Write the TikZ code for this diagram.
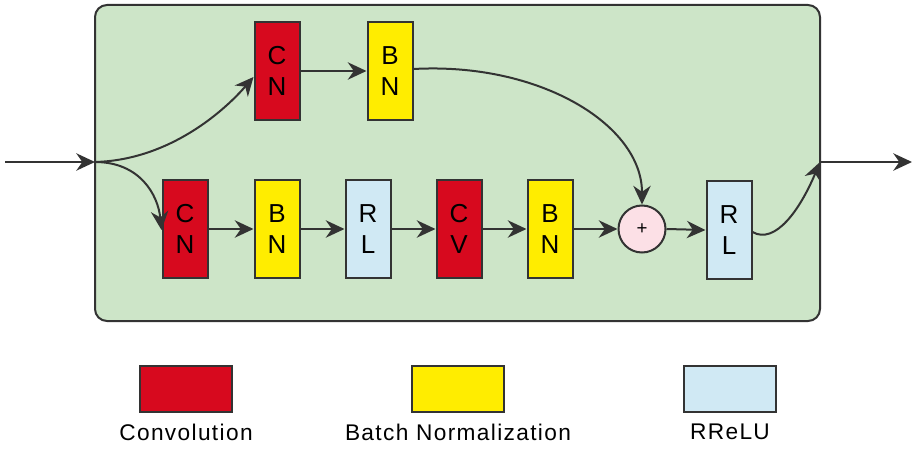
\documentclass[tikz,border=0pt]{standalone}
\usepackage{fontspec}
\setmainfont{Liberation Sans}
\usetikzlibrary{arrows.meta}
\definecolor{bggreen}{HTML}{CDE5C8}
\definecolor{convred}{HTML}{D7091E}
\definecolor{bnyellow}{HTML}{FFED00}
\definecolor{rlblue}{HTML}{D0E9F4}
\definecolor{addpink}{HTML}{FCE0E6}
\definecolor{edge}{HTML}{333333}
\begin{document}
\begin{tikzpicture}[x=0.75pt,y=-0.75pt,
  line width=1.5pt,
  >={Stealth[length=14pt,width=13pt,inset=4.5pt]},
  blk/.style={draw=edge,minimum width=45*0.75pt,minimum height=98*0.75pt,inner sep=0pt,
    align=center,font=\fontsize{19.5}{23}\selectfont},
  conv/.style={blk,fill=convred},
  bn/.style={blk,fill=bnyellow},
  rl/.style={blk,fill=rlblue},
  leg/.style={draw=edge,minimum width=92*0.75pt,minimum height=46*0.75pt,inner sep=0pt},
  legtxt/.style={font=\fontsize{17}{19}\selectfont\addfontfeature{LetterSpace=6}},
  conn/.style={draw=edge,->}]
\useasboundingbox (0,0) rectangle (918,449);
\draw[draw=edge,fill=bggreen,rounded corners=9pt] (95,5) rectangle (820,321);
\coordinate (in) at (95,162);
\coordinate (out) at (820,162);
\coordinate (start) at (5,162);
\coordinate (end) at (912,162);
% top row
\node[conv] (c1) at (277,71) {C\\N};
\node[bn] (b1) at (390,71) {B\\N};
% bottom row
\node[conv] (c2) at (185,229) {C\\N};
\node[bn] (b2) at (277,229) {B\\N};
\node[rl] (r1) at (368,229) {R\\L};
\node[conv] (c3) at (459,229) {C\\V};
\node[bn] (b3) at (550,229) {B\\N};
\node[circle,draw=edge,fill=addpink,minimum size=47*0.75pt,inner sep=0pt,font=\fontsize{14}{14}\selectfont] (add) at (642,229) {+};
\node[rl] (r2) at (729,230) {R\\L};
% connectors
\draw[conn] (start) -- (in);
\draw[conn] (out) -- (end);
\draw[conn] (in) .. controls (170,160) and (225,110) .. ([yshift=-6*0.75pt]c1.west);
\draw[conn] (in) .. controls (140,162) and (158,195) .. ([yshift=-1*0.75pt]c2.west);
\draw[conn] (c1.east) -- (b1.west);
\draw[conn] ([yshift=1.5]b1.east) .. controls (540,62) and (642,125) .. (add.north);
\draw[conn] (c2.east) -- (b2.west);
\draw[conn] (b2.east) -- (r1.west);
\draw[conn] (r1.east) -- (c3.west);
\draw[conn] (c3.east) -- (b3.west);
\draw[conn] (b3.east) -- (add.west);
\draw[conn] (add.east) -- (r2.west);
\draw[conn] ([yshift=-2*0.75pt]r2.east) .. controls (775,245) and (800,210) .. (out);
% legend
\node[leg,fill=convred] (lc) at (186,389) {};
\node[leg,fill=bnyellow] (lb) at (458,389) {};
\node[leg,fill=rlblue] (lr) at (730,389) {};
\node[legtxt] (tc) at (186,432) {Convolution};
\node[legtxt] (tb) at (458,432) {Batch Normalization};
\node[legtxt] (tr) at (730,432) {RReLU};
\end{tikzpicture}
\end{document}
